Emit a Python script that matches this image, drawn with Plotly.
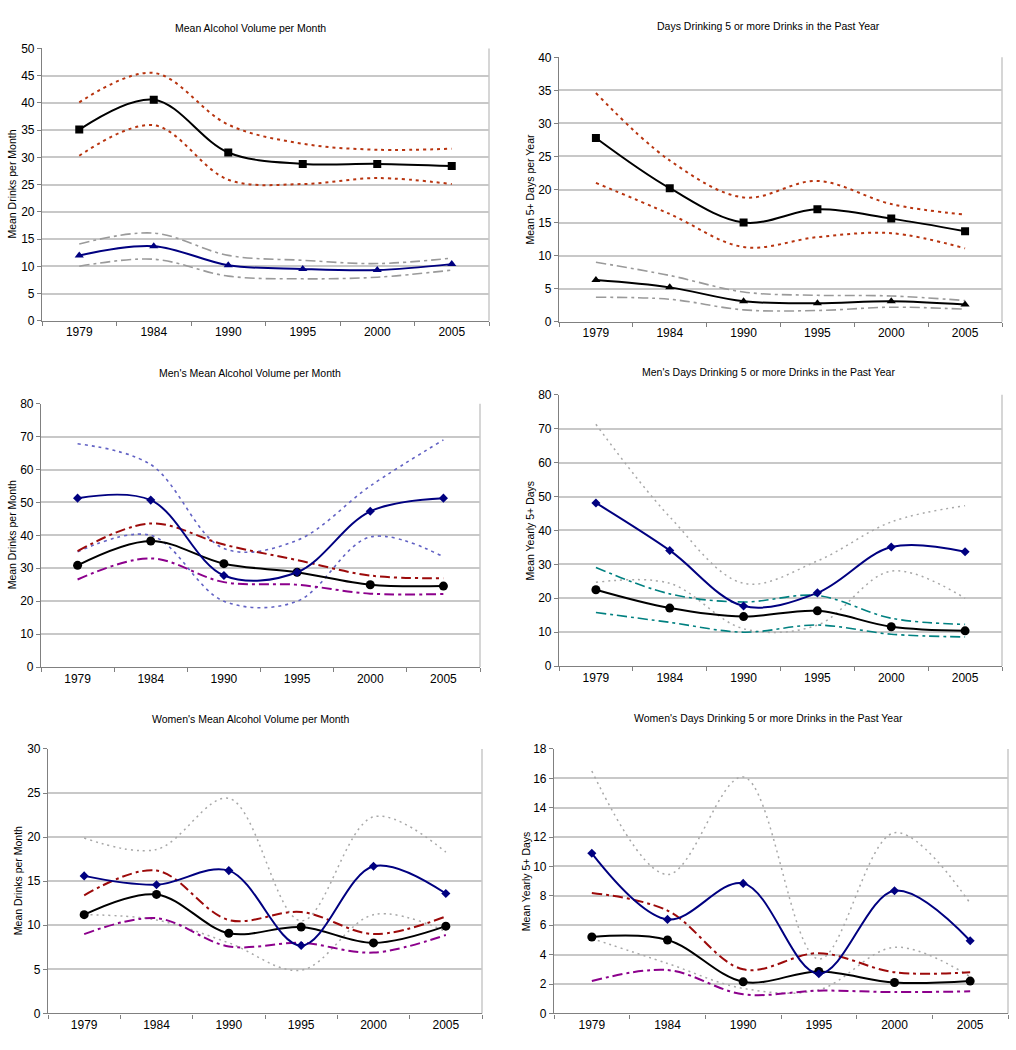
import plotly.graph_objects as go

W, H = 1016, 1050

years = ["1979", "1984", "1990", "1995", "2000", "2005"]

# Panel 1: Mean Alcohol Volume per Month
p1_sq = [35.1, 40.6, 30.9, 28.8, 28.8, 28.4]
p1_sq_hi = [40.1, 45.5, 36.0, 32.5, 31.4, 31.6]
p1_sq_lo = [30.3, 35.9, 25.9, 25.1, 26.2, 25.1]
p1_tri = [12.0, 13.7, 10.2, 9.5, 9.3, 10.4]
p1_tri_hi = [14.1, 16.1, 12.0, 11.1, 10.5, 11.5]
p1_tri_lo = [10.0, 11.3, 8.2, 7.7, 8.0, 9.3]

# Panel 2: Days Drinking 5 or more Drinks in the Past Year
p2_sq = [27.8, 20.2, 15.0, 17.0, 15.6, 13.7]
p2_sq_hi = [34.6, 24.4, 18.8, 21.3, 17.8, 16.2]
p2_sq_lo = [21.0, 16.3, 11.3, 12.8, 13.4, 11.1]
p2_tri = [6.3, 5.2, 3.1, 2.8, 3.1, 2.6]
p2_tri_hi = [9.0, 7.0, 4.5, 4.0, 3.9, 3.2]
p2_tri_lo = [3.7, 3.4, 1.8, 1.7, 2.2, 1.9]

# Panel 3: Men's Mean Alcohol Volume per Month
p3_dia = [51.3, 50.7, 27.8, 28.8, 47.3, 51.3]
p3_dia_hi = [67.8, 61.5, 36.0, 38.5, 55.0, 69.0]
p3_dia_lo = [35.0, 40.0, 20.0, 20.0, 39.5, 33.5]
p3_dot = [30.9, 38.3, 31.4, 28.8, 25.0, 24.6]
p3_dot_hi = [35.2, 43.6, 37.2, 32.5, 27.8, 27.0]
p3_dot_lo = [26.6, 33.0, 25.8, 25.0, 22.3, 22.2]

# Panel 4: Men's Days Drinking 5 or more Drinks in the Past Year
p4_dia = [48.1, 34.1, 17.7, 21.6, 35.1, 33.7]
p4_dia_hi = [71.3, 44.0, 24.4, 31.0, 42.5, 47.3]
p4_dia_lo = [24.7, 24.4, 11.0, 12.1, 28.0, 20.0]
p4_dot = [22.5, 17.1, 14.6, 16.3, 11.6, 10.4]
p4_dot_hi = [29.1, 21.3, 18.9, 20.8, 14.1, 12.3]
p4_dot_lo = [15.8, 12.9, 10.0, 12.1, 9.4, 8.6]

# Panel 5: Women's Mean Alcohol Volume per Month
p5_dia = [15.6, 14.6, 16.2, 7.7, 16.7, 13.6]
p5_dia_hi = [19.9, 18.6, 24.4, 10.5, 22.3, 18.3]
p5_dia_lo = [11.2, 10.6, 8.0, 4.9, 11.2, 9.3]
p5_dot = [11.2, 13.5, 9.1, 9.8, 8.0, 9.9]
p5_dot_hi = [13.4, 16.2, 10.6, 11.5, 9.0, 11.0]
p5_dot_lo = [9.0, 10.8, 7.6, 8.0, 6.9, 8.9]

# Panel 6: Women's Days Drinking 5 or more Drinks in the Past Year
p6_dia = [10.9, 6.4, 8.85, 2.7, 8.35, 4.95]
p6_dia_hi = [16.5, 9.45, 16.1, 3.7, 12.3, 7.5]
p6_dia_lo = [5.1, 3.4, 1.7, 1.6, 4.5, 2.5]
p6_dot = [5.2, 5.0, 2.15, 2.85, 2.1, 2.2]
p6_dot_hi = [8.2, 7.0, 3.0, 4.1, 2.8, 2.8]
p6_dot_lo = [2.2, 2.95, 1.3, 1.55, 1.45, 1.5]

titles = [
    "Mean Alcohol Volume per Month",
    "Days Drinking 5 or more Drinks in the Past Year",
    "Men's Mean Alcohol Volume per Month",
    "Men's Days Drinking 5 or more Drinks in the Past Year",
    "Women's Mean Alcohol Volume per Month",
    "Women's Days Drinking 5 or more Drinks in the Past Year",
]
ytitles = [
    "Mean Drinks per Month",
    "Mean 5+ Days per Year",
    "Mean Drinks per Month",
    "Mean Yearly 5+ Days",
    "Mean Drinks per Month",
    "Mean Yearly 5+ Days",
]
ymax = [50, 40, 80, 80, 30, 18]
ydtick = [5, 5, 10, 10, 5, 2]

# layout geometry (pixels): x0, x1, ytop, ybottom
boxes = [
    (42, 489, 42, 318),
    (559, 1002, 51, 319),
    (41, 480, 402, 669),
    (559, 1002, 393, 668),
    (48, 482, 752, 1020),
    (554, 1008, 752, 1020),
]
title_pos = [(250, 21), (768, 19), (250, 371), (768, 370), (250, 722), (768, 721)]
ytitle_x = [12, 530, 12, 530, 18, 526]

FONT = "Arial, Liberation Sans, sans-serif"
RED_DOT = "#b8340f"
GRAY = "#9a9a9a"
NAVY = "#000080"
SLATE = "#6262c4"
DRED = "#9c0a0a"
PURPLE = "#8c008c"
TEAL = "#008080"
LGRAY = "#a8a8a8"

DOT = "3px,4px"
DASHDOT = "10px,4px,3px,4px"
FINEDOT = "2px,4px"

# series per panel: (values, color, width, dash, marker symbol or None, marker size)
panels = [
    [
        (p1_sq_hi, RED_DOT, 2, DOT, None, 0),
        (p1_sq_lo, RED_DOT, 2, DOT, None, 0),
        (p1_tri_hi, GRAY, 1.6, DASHDOT, None, 0),
        (p1_tri_lo, GRAY, 1.6, DASHDOT, None, 0),
        (p1_sq, "#000000", 2, "solid", "square", 8),
        (p1_tri, NAVY, 2, "solid", "triangle-up", 8),
    ],
    [
        (p2_sq_hi, RED_DOT, 2, DOT, None, 0),
        (p2_sq_lo, RED_DOT, 2, DOT, None, 0),
        (p2_tri_hi, GRAY, 1.6, DASHDOT, None, 0),
        (p2_tri_lo, GRAY, 1.6, DASHDOT, None, 0),
        (p2_sq, "#000000", 2, "solid", "square", 8),
        (p2_tri, "#000000", 2, "solid", "triangle-up", 8),
    ],
    [
        (p3_dia_hi, SLATE, 1.6, DOT, None, 0),
        (p3_dia_lo, SLATE, 1.6, DOT, None, 0),
        (p3_dot_hi, DRED, 2, DASHDOT, None, 0),
        (p3_dot_lo, PURPLE, 2, DASHDOT, None, 0),
        (p3_dot, "#000000", 2, "solid", "circle", 9),
        (p3_dia, NAVY, 2, "solid", "diamond", 7),
    ],
    [
        (p4_dia_hi, LGRAY, 1.5, FINEDOT, None, 0),
        (p4_dia_lo, LGRAY, 1.5, FINEDOT, None, 0),
        (p4_dot_hi, TEAL, 1.6, DASHDOT, None, 0),
        (p4_dot_lo, TEAL, 1.6, DASHDOT, None, 0),
        (p4_dot, "#000000", 2, "solid", "circle", 9),
        (p4_dia, NAVY, 2, "solid", "diamond", 7),
    ],
    [
        (p5_dia_hi, LGRAY, 1.5, FINEDOT, None, 0),
        (p5_dia_lo, LGRAY, 1.5, FINEDOT, None, 0),
        (p5_dot_hi, DRED, 2, DASHDOT, None, 0),
        (p5_dot_lo, PURPLE, 2, DASHDOT, None, 0),
        (p5_dot, "#000000", 2, "solid", "circle", 9),
        (p5_dia, NAVY, 2, "solid", "diamond", 7),
    ],
    [
        (p6_dia_hi, LGRAY, 1.5, FINEDOT, None, 0),
        (p6_dia_lo, LGRAY, 1.5, FINEDOT, None, 0),
        (p6_dot_hi, DRED, 2, DASHDOT, None, 0),
        (p6_dot_lo, PURPLE, 2, DASHDOT, None, 0),
        (p6_dot, "#000000", 2, "solid", "circle", 9),
        (p6_dia, NAVY, 2, "solid", "diamond", 7),
    ],
]

fig = go.Figure()
annotations = []
shapes = []
layout = {}

for i, series in enumerate(panels):
    n = "" if i == 0 else str(i + 1)
    xa, ya = "x" + n, "y" + n
    for vals, color, width, dash, sym, msize in series:
        mode = "lines+markers" if sym else "lines"
        tr = dict(
            x=years, y=vals, xaxis=xa, yaxis=ya, mode=mode, showlegend=False,
            line=dict(color=color, width=width, dash=dash, shape="spline", smoothing=1.0),
            hoverinfo="x+y",
        )
        if sym:
            tr["marker"] = dict(symbol=sym, size=msize, color=color, line=dict(width=0))
        fig.add_trace(go.Scatter(**tr))

    x0, x1, yt, yb = boxes[i]
    layout["xaxis" + n] = dict(
        domain=[x0 / W, x1 / W], anchor=ya, type="category",
        range=[-0.5, 5.5], showgrid=False, zeroline=False,
        showline=True, linecolor="#808080", linewidth=1.2,
        ticks="outside", tickson="boundaries", ticklen=4, tickcolor="#808080",
        tickfont=dict(family=FONT, size=12, color="#000000"), fixedrange=True,
    )
    layout["yaxis" + n] = dict(
        domain=[1 - yb / H, 1 - yt / H], anchor=xa,
        range=[0, ymax[i]], dtick=ydtick[i], tick0=0,
        showgrid=True, gridcolor="#c8c8c8", gridwidth=2, zeroline=False,
        showline=True, linecolor="#808080", linewidth=1.2,
        ticks="outside", ticklen=4, tickcolor="#808080",
        tickfont=dict(family=FONT, size=12, color="#000000"), fixedrange=True,
    )
    # right border of the plot area
    shapes.append(dict(
        type="line", xref=xa + " domain", yref=ya + " domain",
        x0=1, x1=1, y0=0, y1=1, line=dict(color="#c8c8c8", width=1.5), layer="below",
    ))
    tx, ty = title_pos[i]
    annotations.append(dict(
        text=titles[i], xref="paper", yref="paper", x=tx / W, y=1 - ty / H,
        xanchor="center", yanchor="middle", showarrow=False,
        font=dict(family=FONT, size=10.5, color="#000000"),
    ))
    annotations.append(dict(
        text=ytitles[i], xref="paper", yref="paper", x=ytitle_x[i] / W,
        y=1 - (yt + yb) / 2 / H, xanchor="center", yanchor="middle",
        textangle=-90, showarrow=False,
        font=dict(family=FONT, size=10.5, color="#000000"),
    ))

fig.update_layout(
    width=W, height=H, autosize=False,
    margin=dict(l=0, r=0, t=0, b=0),
    paper_bgcolor="white", plot_bgcolor="white",
    annotations=annotations, shapes=shapes, **layout,
)

fig.write_html(
    "out.html",
    config={"displayModeBar": False},
    post_script="document.body.style.margin='0';document.body.style.overflow='hidden';",
)
